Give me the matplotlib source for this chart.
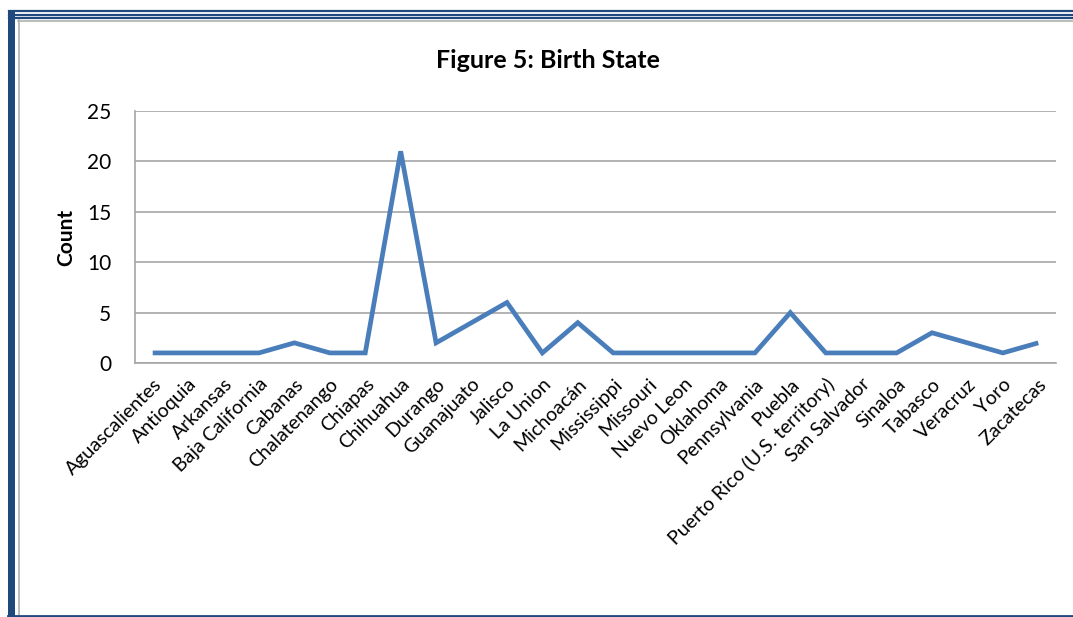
import matplotlib.pyplot as plt
from matplotlib.lines import Line2D
from matplotlib.patches import Rectangle

W, H = 1073, 617

states = [
    "Aguascalientes", "Antioquia", "Arkansas", "Baja California", "Cabanas",
    "Chalatenango", "Chiapas", "Chihuahua", "Durango", "Guanajuato", "Jalisco",
    "La Union", "Michoacán", "Mississippi", "Missouri", "Nuevo Leon", "Oklahoma",
    "Pennsylvania", "Puebla", "Puerto Rico (U.S. territory)", "San Salvador",
    "Sinaloa", "Tabasco", "Veracruz", "Yoro", "Zacatecas",
]
counts = [1, 1, 1, 1, 2, 1, 1, 21, 2, 4, 6, 1, 4, 1, 1, 1, 1, 1, 5, 1, 1, 1, 3, 2, 1, 2]

plt.rcParams["font.family"] = ["Lato", "DejaVu Sans"]

BLUE = "#1f497d"
LINE = "#4a7ebb"
GRID = "#a6a6a6"


def px(x, y):
    return x / W, 1 - y / H


fig = plt.figure(figsize=(W / 100, H / 100), dpi=100)

# page frame
for yy in (11, 14.5, 18):
    fig.add_artist(Line2D([9 / W, 1], [1 - yy / H] * 2, color=BLUE, lw=1.6))
fig.add_artist(Line2D([18 / W, 1], [1 - 20.5 / H] * 2, color="#b0b0b0", lw=1.2))
fig.add_artist(Rectangle(px(8, 617), 7 / W, 607 / H, color=BLUE, lw=0))
fig.add_artist(Line2D([18.5 / W] * 2, [0, 1 - 20 / H], color="#b0b0b0", lw=1.2))
fig.add_artist(Line2D([8 / W, 1], [1 - 616 / H] * 2, color=BLUE, lw=2))

left, right, top, bottom = 135, 1056, 111, 363
ax = fig.add_axes([left / W, 1 - bottom / H, (right - left) / W, (bottom - top) / H])

x = list(range(len(states)))
ax.plot(x, counts, color=LINE, lw=3.4, solid_joinstyle="miter", solid_capstyle="butt")

ax.set_xlim(-0.5, len(states) - 0.5)
ax.set_ylim(0, 25)
ax.set_yticks([0, 5, 10, 15, 20, 25])
ax.yaxis.grid(True, color=GRID, lw=1.2)
ax.set_axisbelow(True)
for side in ("top", "right"):
    ax.spines[side].set_visible(False)
ax.spines["left"].set_color(GRID)
ax.spines["bottom"].set_color(GRID)
ax.spines["left"].set_linewidth(1.2)
ax.spines["bottom"].set_linewidth(1.2)

ax.set_xticks(x)
ax.set_xticklabels(states, rotation=45, ha="right", rotation_mode="anchor", fontsize=14)
ax.tick_params(axis="both", length=0, colors="#000000")
ax.tick_params(axis="y", pad=17, labelsize=15)
ax.tick_params(axis="x", pad=9)

ax.set_ylabel("Count", fontsize=15, fontweight="bold", labelpad=8)
fig.text(548 / W, 1 - 60 / H, "Figure 5: Birth State", ha="center", va="center",
         fontsize=18, fontweight="bold")

fig.savefig("out.png", dpi=100, facecolor="white")
